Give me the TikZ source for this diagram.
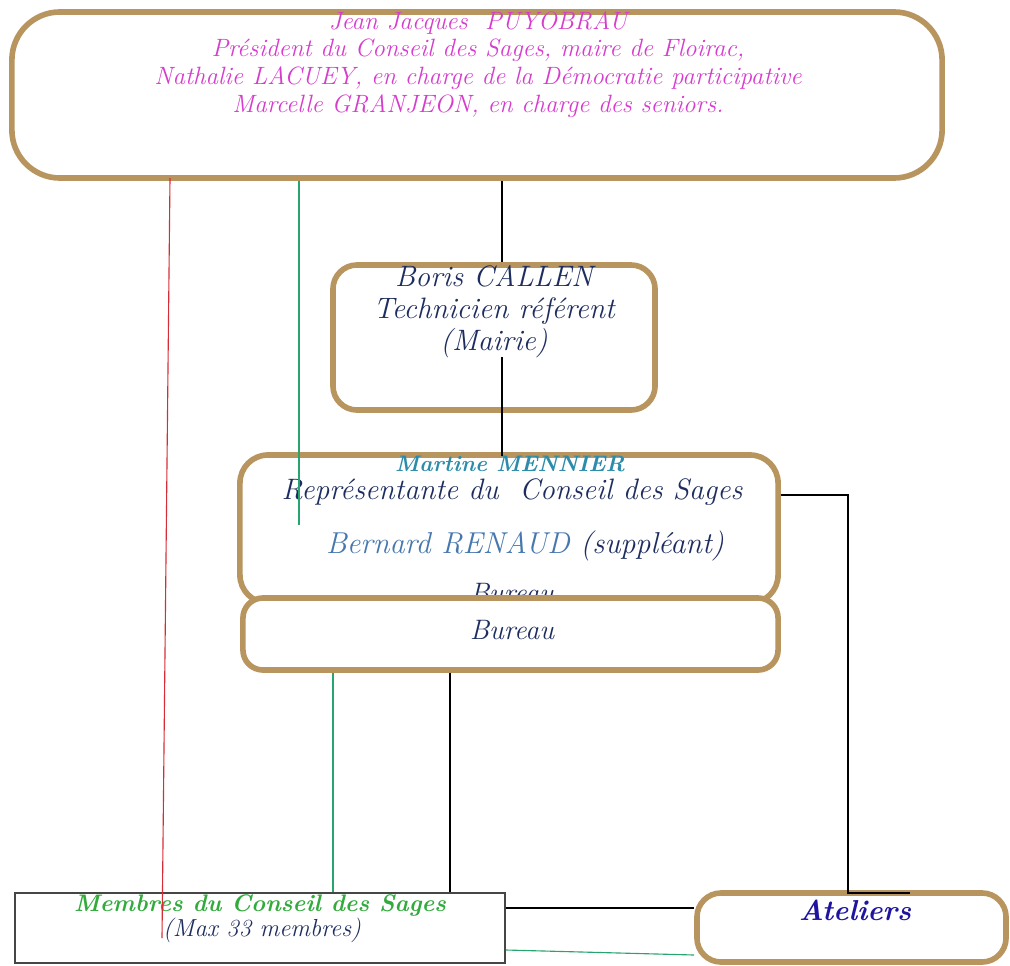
\documentclass[tikz,border=0pt]{standalone}
\usetikzlibrary{positioning}

\definecolor{boxtan}{RGB}{184,149,94}
\definecolor{elumag}{RGB}{214,60,205}
\definecolor{navy}{RGB}{30,45,95}
\definecolor{teal}{RGB}{45,140,170}
\definecolor{supblue}{RGB}{70,120,175}
\definecolor{memgreen}{RGB}{50,170,60}
\definecolor{atblue}{RGB}{30,20,160}
\definecolor{redln}{RGB}{215,45,55}
\definecolor{greenln}{RGB}{40,165,110}

\tikzset{
  tanbox/.style={draw=boxtan, line width=4pt, rounded corners=#1, fill=white, inner sep=0pt},
  plainbox/.style={draw={rgb,255:red,70;green,70;blue,70}, line width=1.2pt, fill=white, inner sep=0pt},
  txt/.style={inner sep=0pt, align=center, font=\itshape},
  link/.style={line width=0.8pt, black}
}

\begin{document}
\begin{tikzpicture}[x=0.025cm, y=-0.025cm]
\useasboundingbox (0,0) rectangle (1010,965);

% boxes
\node[tanbox=1.2cm, minimum width=23.25cm, minimum height=4.15cm] (top) at (477,95) {}; % elus
\node[tanbox=0.6cm, minimum width=8.05cm, minimum height=3.625cm] (boris) at (494,337.5) {}; % technicien
\node[tanbox=0.7cm, minimum width=13.45cm, minimum height=3.7cm] (mart) at (509,529) {}; % representante
\node[txt, text=navy, font=\itshape\fontsize{20}{22}\selectfont] (ghost) at (512,593) {Bureau};
\node[tanbox=0.5cm, minimum width=13.375cm, minimum height=1.8cm] (bur) at (510.5,634) {}; % bureau
\node[plainbox, minimum width=12.25cm, minimum height=1.75cm] (mem) at (260,928) {}; % membres
\node[tanbox=0.6cm, minimum width=7.725cm, minimum height=1.725cm] (atel) at (851.5,927.5) {}; % ateliers

% texts
\node[txt, text=elumag, anchor=north, font=\itshape\fontsize{17.8}{19.8}\selectfont] (eltxt) at (478,11) {Jean Jacques\ \ PUYOBRAU\\Président du Conseil des Sages, maire de Floirac,\\Nathalie LACUEY, en charge de la Démocratie participative\\Marcelle GRANJEON, en charge des seniors.};
\node[txt, text=navy, anchor=north, font=\itshape\fontsize{21}{22.7}\selectfont] (bortxt) at (494,265) {Boris CALLEN\\Technicien référent\\(Mairie)};
\node[txt, text=teal, font=\bfseries\itshape\fontsize{16}{18}\selectfont] (mname) at (510,464) {Martine\ MENNIER};
\node[txt, text=navy, font=\itshape\fontsize{21}{22}\selectfont] (mrole) at (512,492) {Représentante du\ \ Conseil des Sages};
\node[txt, text=navy, font=\itshape\fontsize{21.5}{22}\selectfont] (msup) at (525,546) {\textcolor{supblue}{Bernard RENAUD} (suppléant)};
\node[txt, text=navy, font=\itshape\fontsize{20}{22}\selectfont] (burtxt) at (512,630) {Bureau};
\node[txt, text=memgreen, font=\bfseries\itshape\fontsize{17}{19}\selectfont] (memtxt) at (260,905) {Membres du Conseil des Sages};
\node[txt, text=navy, font=\itshape\fontsize{17.5}{19}\selectfont] (maxtxt) at (262,930) {(Max 33 membres)};
\node[txt, text=atblue, font=\bfseries\itshape\fontsize{20.5}{22}\selectfont] (attxt) at (855,910) {Ateliers};

% free ends
\coordinate (redtop) at (170,178);
\coordinate (redend) at (162,938);
\coordinate (grend) at (299,525);
\coordinate (cx) at (502,357);
\coordinate (rt) at (848,495);
\coordinate (atend) at (910,893);

% connectors
\draw[line width=0.8pt, redln] (redtop) -- (redend);
\draw[line width=0.8pt, greenln] (top.south -| grend) -- (grend);
\draw[link] (top.south -| cx) -- (boris.north -| cx);
\draw[link] (cx) -- (mname.north -| cx);
\draw[link] (mart.east |- rt) -- (rt) -- (rt |- atend) -- (atend);
\draw[line width=0.8pt, greenln] (bur.south -| 333,0) -- (mem.north -| 333,0);
\draw[link] (bur.south -| 450,0) -- (mem.north -| 450,0);
\draw[link] (mem.east |- 0,908) -- (atel.west |- 0,908);
\draw[line width=0.8pt, greenln] (mem.east |- 0,950) -- (atel.west |- 0,955);
\end{tikzpicture}
\end{document}
